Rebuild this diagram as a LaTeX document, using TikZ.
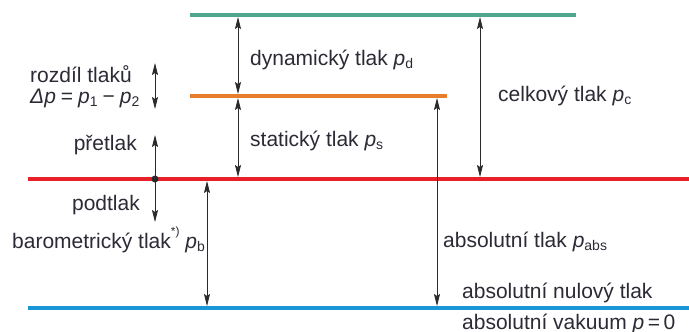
\documentclass[tikz,border=0pt]{standalone}
\usepackage{fontspec}
\setmainfont{Liberation Sans}
\usetikzlibrary{arrows.meta}
\definecolor{tealc}{HTML}{4FA58E}
\definecolor{orangec}{HTML}{E87D2E}
\definecolor{redc}{HTML}{E8202A}
\definecolor{bluec}{HTML}{1A96D6}
\definecolor{txtc}{HTML}{2B2A35}
\definecolor{arrc}{HTML}{2A2A2A}
\newcommand\sbs[1]{\raisebox{-0.3ex}{\fontsize{14}{14}\selectfont #1}}
\newcommand\ip{\textit{p}}
\begin{document}
\begin{tikzpicture}[x=1pt,y=-1pt,
  level/.style={line width=4pt},
  dimline/.style={line width=0.8pt, draw=arrc},
  tip/.tip={Stealth[length=12pt,width=6pt,inset=2pt]},
  lbl/.style={anchor=base west, inner sep=0pt, font=\fontsize{21}{25}\selectfont, text=txtc},
  lblr/.style={anchor=base east, inner sep=0pt, font=\fontsize{21}{25}\selectfont, text=txtc}]
\useasboundingbox (0,0) rectangle (689,332);
% levels
\coordinate (tL) at (190,15);  \coordinate (tR) at (576,15);
\coordinate (oL) at (190,96);  \coordinate (oR) at (447,96);
\coordinate (rL) at (28,179);  \coordinate (rR) at (689,179);
\coordinate (bL) at (28,308);  \coordinate (bR) at (689,308);
\draw[level, tealc] (tL) -- (tR);
\draw[level, orangec] (oL) -- (oR);
\draw[level, redc] (rL) -- (rR);
\draw[level, bluec] (bL) -- (bR);
% arrow end points
\coordinate (d1) at (238,17);  \coordinate (d2) at (238,94);
\coordinate (s1) at (238,98);  \coordinate (s2) at (238,177);
\coordinate (c1) at (480,17);  \coordinate (c2) at (480,177);
\coordinate (a1) at (437,98);  \coordinate (a2) at (437,306);
\coordinate (b1) at (207,181); \coordinate (b2) at (207,306);
\coordinate (r1) at (155,63);  \coordinate (r2) at (155,109);
\coordinate (dot) at (155,179);
\coordinate (pu) at (155,135); \coordinate (pd) at (155,222);
\draw[dimline, tip-tip] (d1) -- (d2);
\draw[dimline, tip-tip] (s1) -- (s2);
\draw[dimline, tip-tip] (c1) -- (c2);
\draw[dimline, tip-tip] (a1) -- (a2);
\draw[dimline, tip-tip] (b1) -- (b2);
\draw[dimline, tip-tip] (r1) -- (r2);
\draw[dimline, -tip] (dot) -- (pu);
\draw[dimline, -tip] (dot) -- (pd);
\fill[arrc] (dot) circle (3.5pt);
% labels
\node[lbl] (ld) at (250,65) {dynamický tlak \ip\sbs{d}};
\node[lbl] (ls) at (250,146) {statický tlak \ip\sbs{s}};
\node[lbl] (lc) at (498,101) {celkový tlak \ip\sbs{c}};
\node[lbl] (la) at (443,247) {absolutní tlak \ip\sbs{abs}};
\node[lbl] (ln) at (462,298) {absolutní nulový tlak};
\node[lbl] (lv) at (462,329) {absolutní vakuum \ip\hspace{3.5pt}=\hspace{3.5pt}0};
\node[lbl] (lr) at (30,82) {rozdíl tlaků};
\node[lbl] (lp) at (30,103) {\textit{Δp}\hspace{5pt}=\hspace{5pt}\ip\sbs{1}\hspace{5pt}−\hspace{5pt}\ip\sbs{2}};
\node[lblr] (lpr) at (137,150) {přetlak};
\node[lblr] (lpo) at (140,210) {podtlak};
\node[lbl] (lb) at (12,248) {barometrický tlak\raisebox{1.1ex}{\fontsize{12}{12}\selectfont *)} \ip\sbs{b}};
\end{tikzpicture}
\end{document}
